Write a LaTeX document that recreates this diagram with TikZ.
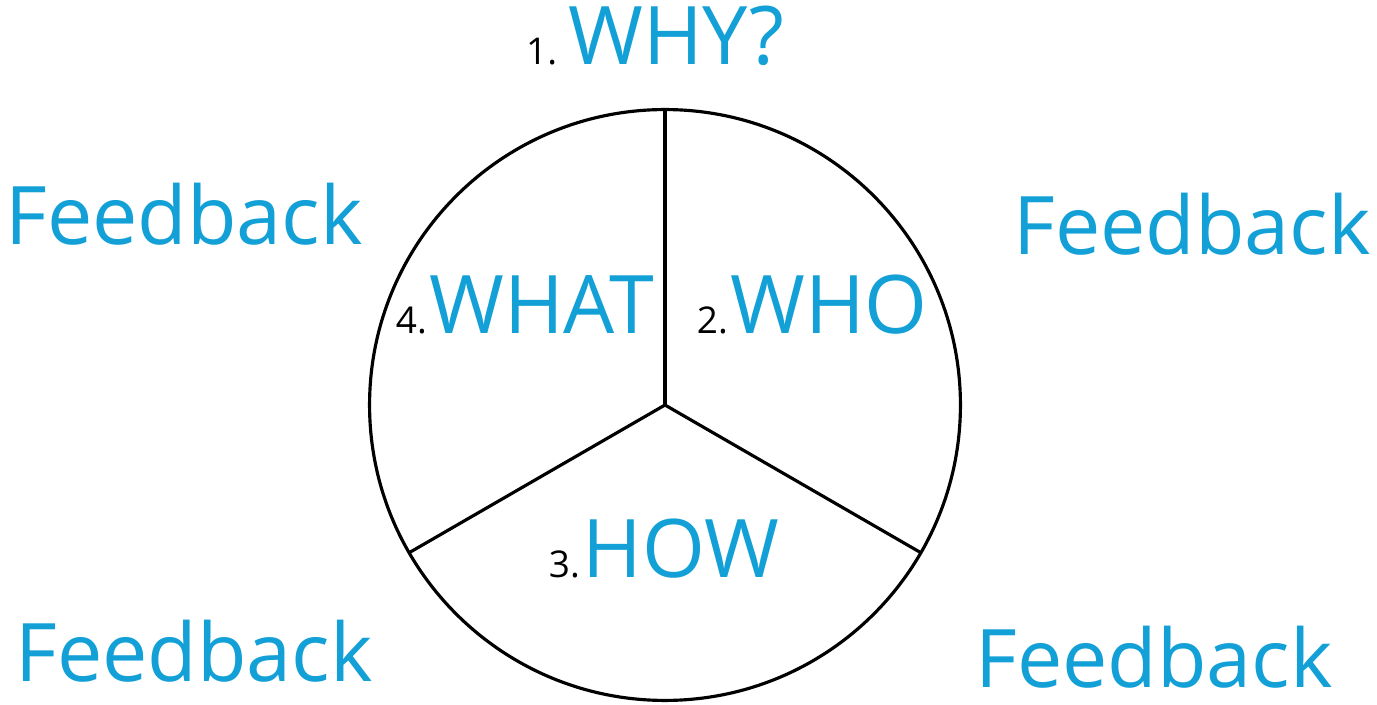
\documentclass[tikz,border=0pt]{standalone}
\usepackage{fontspec}
\setmainfont{Open Sans}
\usepackage{tikz}
\usetikzlibrary{positioning}

\definecolor{wordblue}{RGB}{18,160,215}

\begin{document}
\begin{tikzpicture}[
  x=0.02cm, y=-0.02cm,
  wheel/.style={
    circle,
    draw,
    line width=1.8pt,
    outer sep=0pt,
    inner sep=0pt,
    minimum size=11.82cm
  },
  spoke/.style={line width=1.8pt},
  word/.style={
    inner sep=0pt,
    anchor=base west,
    text=wordblue,
    font=\fontsize{46}{46}\selectfont
  },
  num/.style={
    inner sep=0pt,
    anchor=base east,
    font=\fontsize{21}{21}\selectfont
  },
  feedback/.style={word, anchor=base}
]

\useasboundingbox (0,0) rectangle (1377,705);

\node[wheel] (wheel) at (665,405) {};

\draw[spoke] (wheel.center) -- (wheel.90);
\draw[spoke] (wheel.center) -- (wheel.-30);
\draw[spoke] (wheel.center) -- (wheel.210);

% steps
\node[word] (why) at (568,65) {WHY?};
\node[num, left=6pt of why.base west, anchor=base east] (n1) {1.};

\node[word] (who) at (730,334) {WHO};
\node[num, left=1pt of who.base west, anchor=base east] (n2) {2.};

\node[word] (how) at (582,578) {HOW};
\node[num, left=1pt of how.base west, anchor=base east] (n3) {3.};

\node[word] (what) at (429,334) {WHAT};
\node[num, left=1pt of what.base west, anchor=base east] (n4) {4.};

% feedback corners
\node[feedback] (fbtl) at (184,245) {Feedback};
\node[feedback] (fbtr) at (1192,255) {Feedback};
\node[feedback] (fbbl) at (194,682) {Feedback};
\node[feedback] (fbbr) at (1154,688) {Feedback};

\end{tikzpicture}
\end{document}
